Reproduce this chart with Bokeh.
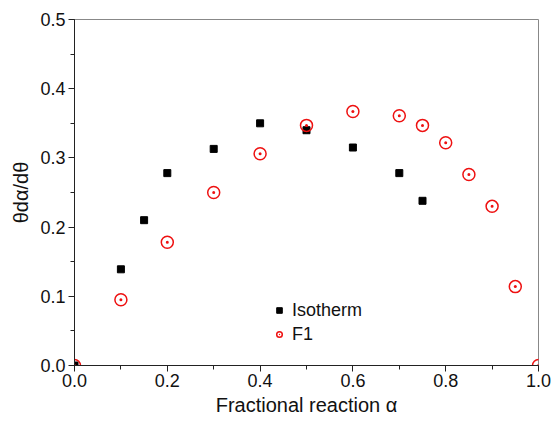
from bokeh.plotting import figure
from bokeh.models import Range1d, SingleIntervalTicker, PrintfTickFormatter, Legend, LegendItem
from bokeh.embed import file_html
from bokeh.resources import INLINE

# Data
iso_alpha = [0.0, 0.1, 0.15, 0.2, 0.3, 0.4, 0.5, 0.6, 0.7, 0.75]
iso_val = [0.0, 0.139, 0.210, 0.278, 0.313, 0.350, 0.340, 0.315, 0.278, 0.238]
f1_alpha = [0.0, 0.1, 0.2, 0.3, 0.4, 0.5, 0.6, 0.7, 0.75, 0.8, 0.85, 0.9, 0.95, 1.0]
f1_val = [0.0, 0.095, 0.178, 0.250, 0.306, 0.347, 0.367, 0.361, 0.347, 0.322, 0.276, 0.230, 0.114, 0.0]

FONT = "Liberation Sans"

p = figure(width=552, height=423, output_backend="svg", toolbar_location=None,
           x_range=Range1d(0, 1), y_range=Range1d(0, 0.5),
           min_border_left=74, min_border_right=14, min_border_top=19, min_border_bottom=58)

p.xgrid.visible = False
p.ygrid.visible = False
p.outline_line_color = "#888888"
p.outline_line_width = 1

r_iso = p.scatter(iso_alpha, iso_val, marker="square", size=7, color="black")
r_f1 = p.scatter(f1_alpha, f1_val, marker="circle_dot", size=12, fill_color=None,
                 line_color="#ee1111", line_width=1.5)

for ax in (p.xaxis[0], p.yaxis[0]):
    ax.axis_line_color = "#222222"
    ax.major_tick_line_color = "#222222"
    ax.minor_tick_line_color = "#222222"
    ax.major_tick_in = 0
    ax.major_tick_out = 6
    ax.minor_tick_in = 0
    ax.minor_tick_out = 4
    ax.major_label_text_font = FONT
    ax.major_label_text_font_size = "18px"
    ax.major_label_text_color = "#111111"
    ax.axis_label_text_font = FONT
    ax.axis_label_text_font_size = "20px"
    ax.axis_label_text_font_style = "normal"
    ax.axis_label_text_color = "#111111"
    ax.formatter = PrintfTickFormatter(format="%.1f")

p.xaxis[0].ticker = SingleIntervalTicker(interval=0.2, num_minor_ticks=2)
p.yaxis[0].ticker = SingleIntervalTicker(interval=0.1, num_minor_ticks=2)
p.xaxis[0].axis_label = "Fractional reaction α"
p.yaxis[0].axis_label = "θdα/dθ"
p.xaxis[0].major_label_standoff = 2
p.yaxis[0].major_label_standoff = 3
p.xaxis[0].axis_label_standoff = 4
p.yaxis[0].axis_label_standoff = 5

legend = Legend(items=[LegendItem(label="Isotherm", renderers=[r_iso]),
                       LegendItem(label="F1", renderers=[r_f1])],
                location=(198, 19), border_line_color=None, background_fill_alpha=0,
                padding=0, margin=0, spacing=0, glyph_width=14, glyph_height=24,
                label_height=24, label_standoff=6,
                label_text_font=FONT, label_text_font_size="18px", label_text_color="#111111")
p.add_layout(legend, "center")

open("out.html", "w").write(file_html(p, INLINE))
